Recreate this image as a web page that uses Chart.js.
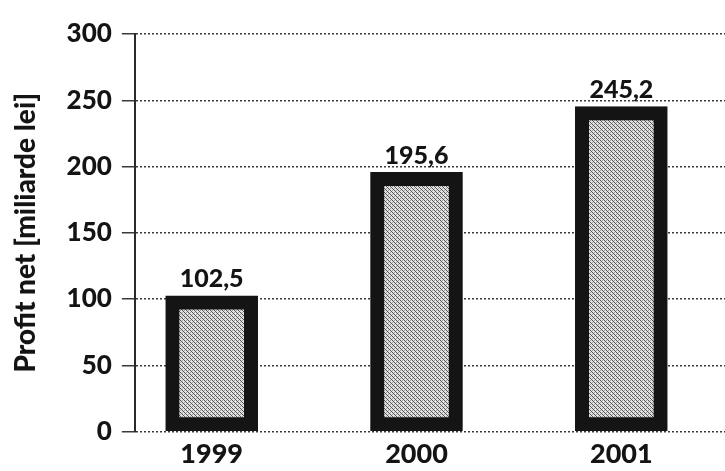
<!DOCTYPE html>
<html>
<head>
<meta charset="utf-8">
<script src="https://cdn.jsdelivr.net/npm/chart.js@4.4.1/dist/chart.umd.min.js"></script>
<style>
  html, body { margin: 0; padding: 0; background: #fff; }
  #wrap { width: 725px; height: 471px; }
</style>
</head>
<body>
<div id="wrap"><canvas id="profitChart" width="725" height="471"></canvas></div>
<script>
  // ======= Data =======
  const years = ["1999", "2000", "2001"];
  const profit = [102.5, 195.6, 245.2];
  const yTicks = [0, 50, 100, 150, 200, 250, 300];

  const FONT = "Lato, 'DejaVu Sans', sans-serif";
  const INK = "#141414";

  // halftone-like fill for the bars (fixed pattern)
  function makeFill() {
    const c = document.createElement("canvas");
    c.width = 4;
    c.height = 4;
    const g = c.getContext("2d");
    g.fillStyle = "#e2e2e2";
    g.fillRect(0, 0, 4, 4);
    g.fillStyle = "#555";
    g.fillRect(0, 0, 1, 1);
    g.fillRect(1, 1, 1, 1);
    g.fillRect(2, 2, 1, 1);
    g.fillRect(3, 3, 1, 1);
    g.fillStyle = "#a0a0a0";
    g.fillRect(2, 0, 1, 1);
    g.fillRect(0, 2, 1, 1);
    return g.createPattern(c, "repeat");
  }

  // value labels above the bars, Romanian decimal comma
  const valueLabels = {
    id: "valueLabels",
    afterDatasetsDraw(chart) {
      const ctx = chart.ctx;
      const meta = chart.getDatasetMeta(0);
      ctx.save();
      ctx.fillStyle = INK;
      ctx.font = "900 25px " + FONT;
      ctx.textAlign = "center";
      ctx.textBaseline = "bottom";
      meta.data.forEach(function (bar, i) {
        ctx.fillText(profit[i].toFixed(1).replace(".", ","), bar.x, bar.y - 4);
      });
      ctx.restore();
    }
  };

  const ctx = document.getElementById("profitChart").getContext("2d");

  new Chart(ctx, {
    type: "bar",
    data: {
      datasets: [
        {
          data: profit.map(function (v, i) { return { x: i, y: v }; }),
          backgroundColor: makeFill(),
          borderColor: INK,
          borderWidth: 14,
          borderSkipped: false,
          barThickness: 92
        }
      ]
    },
    options: {
      responsive: false,
      animation: false,
      devicePixelRatio: 1,
      layout: { padding: { left: 9, top: 34, right: 0, bottom: -5 } },
      plugins: {
        legend: { display: false },
        tooltip: { enabled: false }
      },
      scales: {
        x: {
          type: "linear",
          offset: false,
          min: -0.375,
          max: 2.506,
          afterBuildTicks: function (axis) {
            axis.ticks = years.map(function (_, i) { return { value: i }; });
          },
          grid: { display: false, drawTicks: false },
          border: { display: false },
          ticks: {
            color: INK,
            padding: 6,
            font: { family: FONT, size: 27, weight: "900" },
            callback: function (v) { return years[v]; }
          }
        },
        y: {
          min: 0,
          max: 300,
          afterBuildTicks: function (axis) {
            axis.ticks = yTicks.map(function (v) { return { value: v }; });
          },
          grid: {
            color: "#3a3a3a",
            lineWidth: 1.5,
            tickLength: 13,
            tickColor: "#3a3a3a"
          },
          border: { display: true, color: "#2a2a2a", width: 2, dash: [2, 2] },
          ticks: {
            color: INK,
            padding: 10,
            font: { family: FONT, size: 26, weight: "900" }
          },
          title: {
            display: true,
            text: "Profit net [miliarde lei]",
            color: INK,
            padding: { top: 0, bottom: 14 },
            font: { family: FONT, size: 28, weight: "900" }
          }
        }
      }
    },
    plugins: [valueLabels]
  });
</script>
</body>
</html>
